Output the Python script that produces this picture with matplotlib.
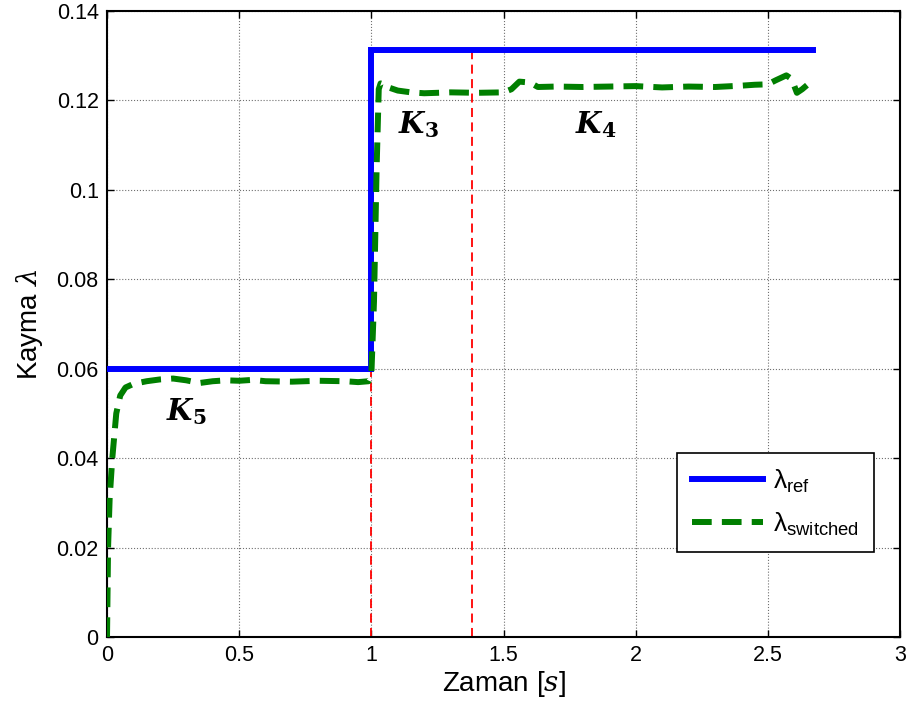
import matplotlib
matplotlib.use('Agg')
import matplotlib.pyplot as plt

plt.rcParams['font.family'] = ['Liberation Sans', 'DejaVu Sans']
plt.rcParams['mathtext.fontset'] = 'custom'
plt.rcParams['mathtext.rm'] = 'Liberation Sans'
plt.rcParams['mathtext.it'] = 'DejaVu Serif:italic'
plt.rcParams['mathtext.bf'] = 'DejaVu Serif:bold'
plt.rcParams['mathtext.bfit'] = 'DejaVu Serif:bold:italic'

# reference slip
t_ref = [0.0, 1.0, 1.0, 2.67]
lam_ref = [0.06, 0.06, 0.1312, 0.1312]

# switched controller response
t_sw = [0.0, 0.002, 0.004, 0.01, 0.02, 0.035, 0.05, 0.07, 0.1, 0.15, 0.2, 0.25,
        0.3, 0.35, 0.4, 0.45, 0.5, 0.55, 0.6, 0.7, 0.8, 0.9, 0.95, 0.99,
        1.0, 1.01, 1.02, 1.028, 1.035, 1.045, 1.07, 1.1, 1.15, 1.2, 1.3,
        1.4, 1.5, 1.53, 1.56, 1.6, 1.63, 1.7, 1.8, 1.9, 2.0, 2.1, 2.2, 2.3,
        2.4, 2.45, 2.5, 2.53, 2.57, 2.59, 2.61, 2.63, 2.65, 2.67]
lam_sw = [0.0, 0.01, 0.02, 0.031, 0.04, 0.05, 0.054, 0.0558, 0.0566, 0.0572, 0.0576, 0.0578,
          0.0574, 0.0568, 0.0572, 0.0574, 0.0573, 0.0575, 0.0572, 0.0571, 0.0573, 0.0572, 0.057, 0.0572,
          0.0585, 0.075, 0.105, 0.1225, 0.1238, 0.1236, 0.1228, 0.1222, 0.1218, 0.1216, 0.1218,
          0.1217, 0.1218, 0.1225, 0.1242, 0.1240, 0.1230, 0.1231, 0.1230, 0.1231, 0.1232, 0.1229, 0.1231, 0.1230,
          0.1233, 0.1235, 0.1236, 0.1245, 0.1256, 0.1248, 0.1217, 0.1225, 0.1235, 0.1238]

switch_times = [1.0, 1.38]
switch_top = 0.1312

labels = [(r'$\mathbfit{K}_{\mathbf{5}}$', 0.3, 0.0505),
          (r'$\mathbfit{K}_{\mathbf{3}}$', 1.18, 0.1145),
          (r'$\mathbfit{K}_{\mathbf{4}}$', 1.85, 0.1145)]

fig = plt.figure(figsize=(9.1, 7.13), dpi=100)
ax = fig.add_axes([0.1176, 0.1066, 0.8714, 0.878])

ax.plot(t_ref, lam_ref, color='#0000ff', lw=4.3, label=r'λ$_{\mathrm{ref}}$',
        solid_joinstyle='miter', zorder=3)
ax.plot(t_sw, lam_sw, color='#007f00', lw=4.3, ls=(0, (3.3, 1.7)),
        label=r'λ$_{\mathrm{switched}}$', zorder=4)
for ts in switch_times:
    ax.plot([ts, ts], [0, switch_top], color='#ff0000', lw=1.3, ls=(0, (5, 3)), zorder=2)

for txt, x, y in labels:
    ax.text(x, y, txt, fontsize=21, ha='center', va='center')

ax.set_xlim(0, 3)
ax.set_ylim(0, 0.14)
ax.set_xticks([0, 0.5, 1, 1.5, 2, 2.5, 3])
ax.set_xticklabels(['0', '0.5', '1', '1.5', '2', '2.5', '3'])
ax.set_yticks([0, 0.02, 0.04, 0.06, 0.08, 0.1, 0.12, 0.14])
ax.set_yticklabels(['0', '0.02', '0.04', '0.06', '0.08', '0.1', '0.12', '0.14'])
ax.tick_params(direction='in', length=5, width=1, labelsize=15.5,
               top=True, right=True, pad=6)
ax.grid(True, color='#707070', ls=':', lw=0.8)
for s in ax.spines.values():
    s.set_linewidth(1.5)

ax.set_xlabel('Zaman $[s]$', fontsize=20, labelpad=2)
ax.set_ylabel(r'Kayma $\lambda$', fontsize=20, labelpad=8)

leg = ax.legend(loc='upper left', bbox_to_anchor=(0.719, 0.294), borderaxespad=0,
                fontsize=19, fancybox=False, edgecolor='black', framealpha=1,
                handlelength=2.7, borderpad=0.55, labelspacing=0.6, handletextpad=0.4)
leg.get_frame().set_linewidth(1.2)

fig.savefig('out.png', dpi=100)
